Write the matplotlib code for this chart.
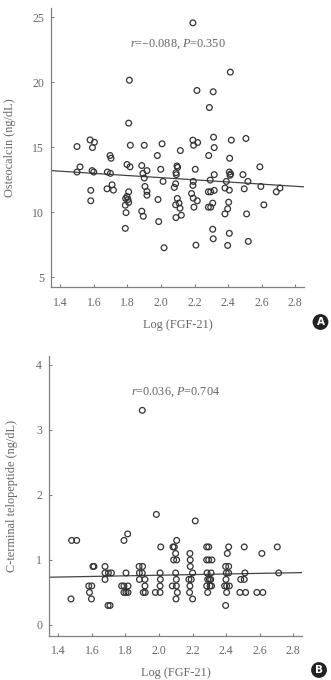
import matplotlib
matplotlib.use("Agg")
import matplotlib.pyplot as plt
import numpy as np

plt.rcParams['font.family'] = ['Liberation Serif', 'DejaVu Serif']
plt.rcParams['mathtext.fontset'] = 'custom'
plt.rcParams['mathtext.rm'] = 'Liberation Serif'
plt.rcParams['mathtext.it'] = 'Liberation Serif:italic'

# ---------------- Data ----------------
a_x = [2.190, 2.413, 1.811, 2.214, 2.311, 2.288, 1.807, 1.499, 1.577, 1.603,
       1.591, 1.696, 1.702, 1.817, 1.900, 2.006, 1.978, 2.115, 2.190, 2.194,
       2.218, 2.313, 2.317, 2.284, 2.419, 2.409, 2.506, 1.517, 1.797, 1.815,
       1.885, 2.095, 2.589, 1.499, 1.589, 1.599, 1.680, 1.698, 1.708, 1.678,
       1.716, 1.581, 1.581, 1.807, 1.797, 1.789, 1.803, 1.787, 1.807, 1.791,
       1.787, 1.916, 1.892, 1.900, 1.904, 1.916, 1.916, 1.885, 1.894, 1.998,
       2.012, 1.982, 1.986, 2.018, 2.099, 2.089, 2.091, 2.087, 2.079, 2.097,
       2.107, 2.087, 2.113, 2.121, 2.089, 2.204, 2.192, 2.190, 2.182, 2.192,
       2.216, 2.196, 2.208, 2.293, 2.317, 2.282, 2.296, 2.317, 2.308, 2.282,
       2.296, 2.308, 2.311, 2.407, 2.415, 2.411, 2.389, 2.381, 2.407, 2.403,
       2.397, 2.381, 2.407, 2.397, 2.488, 2.518, 2.496, 2.510, 2.520, 2.595,
       2.613, 2.687, 2.709]
a_y = [24.56, 20.77, 20.15, 19.36, 19.26, 18.05, 16.85, 15.05, 15.56, 15.38,
       14.97, 14.36, 14.15, 15.15, 15.15, 15.26, 14.36, 14.74, 15.54, 15.15,
       15.36, 15.77, 14.97, 14.36, 15.54, 14.15, 15.67, 13.49, 13.67, 13.49,
       13.59, 13.56, 13.49, 13.09, 13.20, 13.09, 13.09, 12.99, 12.11, 11.80,
       11.70, 11.68, 10.88, 11.57, 11.21, 11.06, 10.98, 10.54, 10.75, 9.97,
       8.76, 13.20, 12.99, 12.63, 11.98, 11.60, 11.31, 10.08, 9.69, 13.30,
       12.37, 10.98, 9.28, 7.27, 13.45, 13.04, 12.89, 12.19, 11.91, 11.06,
       10.70, 10.57, 10.31, 9.77, 9.59, 13.30, 12.37, 12.06, 11.44, 11.08,
       10.88, 10.39, 7.47, 12.47, 12.89, 11.57, 11.57, 11.68, 10.70, 10.39,
       10.39, 8.69, 7.96, 13.09, 12.94, 12.84, 12.37, 11.86, 11.70, 10.77,
       10.26, 9.87, 8.38, 7.45, 12.89, 12.37, 11.80, 9.87, 7.76, 11.98,
       10.57, 11.57, 11.86]

b_x = [1.479, 1.509, 1.475, 1.606, 1.612, 1.581, 1.599, 1.585, 1.597, 1.678,
       1.678, 1.678, 1.698, 1.716, 1.696, 1.708, 1.791, 1.813, 1.803, 1.777,
       1.791, 1.815, 1.791, 1.803, 1.815, 1.881, 1.902, 1.883, 1.900, 1.883,
       1.916, 1.916, 1.906, 1.918, 1.900, 1.984, 2.010, 2.006, 2.008, 2.006,
       1.978, 2.006, 2.105, 2.083, 2.091, 2.099, 2.087, 2.105, 2.099, 2.103,
       2.079, 2.103, 2.109, 2.101, 2.184, 2.186, 2.186, 2.200, 2.178, 2.192,
       2.184, 2.182, 2.200, 2.216, 2.284, 2.296, 2.284, 2.296, 2.315, 2.286,
       2.310, 2.290, 2.300, 2.308, 2.284, 2.304, 2.313, 2.290, 2.415, 2.407,
       2.397, 2.415, 2.401, 2.415, 2.399, 2.391, 2.403, 2.419, 2.403, 2.397,
       2.508, 2.487, 2.508, 2.512, 2.482, 2.516, 2.583, 2.619, 2.613, 2.705,
       2.713]
b_y = [1.3, 1.3, 0.4, 0.9, 0.9, 0.6, 0.6, 0.5, 0.4, 0.9,
       0.8, 0.7, 0.8, 0.8, 0.3, 0.3, 1.3, 1.4, 0.8, 0.6,
       0.6, 0.6, 0.5, 0.5, 0.5, 0.9, 0.9, 0.8, 0.8, 0.7,
       0.7, 0.6, 0.5, 0.5, 3.3, 1.7, 1.2, 0.8, 0.7, 0.6,
       0.5, 0.5, 1.3, 1.2, 1.2, 1.1, 1.0, 1.0, 0.8, 0.7,
       0.6, 0.6, 0.5, 0.4, 1.1, 1.0, 0.9, 0.8, 0.7, 0.7,
       0.6, 0.5, 0.4, 1.6, 1.2, 1.2, 1.0, 1.0, 1.0, 0.8,
       0.8, 0.7, 0.7, 0.7, 0.6, 0.6, 0.6, 0.5, 1.2, 1.1,
       0.9, 0.9, 0.8, 0.8, 0.7, 0.6, 0.6, 0.6, 0.5, 0.3,
       1.2, 0.7, 0.7, 0.8, 0.5, 0.5, 0.5, 0.5, 1.1, 1.2,
       0.8]

# regression lines: (intercept, slope)
fit_a = (14.313, -0.828)
fit_b = (0.671, 0.047)

x_ticks = [1.4, 1.6, 1.8, 2.0, 2.2, 2.4, 2.6, 2.8]
a_yticks = [5, 10, 15, 20, 25]
b_yticks = [0, 1, 2, 3, 4]

x_label = "Log (FGF-21)"
a_ylabel = "Osteocalcin (ng/dL)"
b_ylabel = "C-terminal telopeptide (ng/dL)"
a_text = "$r$=\u22120.088, $P$=0.350"
b_text = "$r$=0.036, $P$=0.704"

# ---------------- Figure ----------------
W, H = 331, 680
fig = plt.figure(figsize=(W / 100, H / 100), dpi=100)

TXT = '#666666'
SPINE = '#808080'
MK = '#333333'


def panel(rect, xs, ys, fit, yticks, ylim, ylabel, ylab_x, xlab_y, txt, letter, letter_xy):
    ax = fig.add_axes(rect)
    ax.scatter(xs, ys, s=17, facecolors='none', edgecolors=MK, linewidths=0.9, zorder=3)
    xlim = (1.344, 2.854)
    xx = np.array(xlim)
    ax.plot(xx, fit[0] + fit[1] * xx, color='#444444', lw=0.9, zorder=2)
    ax.set_xlim(*xlim)
    ax.set_ylim(*ylim)
    ax.set_xticks(x_ticks)
    ax.set_xticklabels([f"{t:.1f}" for t in x_ticks])
    ax.set_yticks(yticks)
    for s in ('top', 'right'):
        ax.spines[s].set_visible(False)
    for s in ('left', 'bottom'):
        ax.spines[s].set_color(SPINE)
        ax.spines[s].set_linewidth(0.9)
    ax.tick_params(axis='both', direction='in', length=2.2, width=0.8, color=SPINE,
                   labelcolor=TXT, labelsize=8.5)
    ax.tick_params(axis='x', pad=7)
    ax.tick_params(axis='y', pad=5)
    ax.set_xlabel(x_label, fontsize=8.8, color=TXT)
    ax.xaxis.set_label_coords(0.5, xlab_y)
    ax.set_ylabel(ylabel, fontsize=8.8, color=TXT)
    ax.yaxis.set_label_coords(ylab_x, 0.5)
    ax.text(0.501, 0.871, txt, transform=ax.transAxes, ha='center', va='center',
            fontsize=8.8, color=TXT)
    fig.text(letter_xy[0] / W, 1 - letter_xy[1] / H, letter, ha='center', va='center',
             fontsize=7.5, fontweight='bold', color='white', family='DejaVu Sans',
             bbox=dict(boxstyle='circle,pad=0.28', fc='#222222', ec='none'))
    return ax


panel([51 / W, 1 - 287.3 / H, 253.3 / W, 279.3 / H], a_x, a_y, fit_a, a_yticks,
      (4.23, 25.7), a_ylabel, -0.138, -0.1135, a_text, 'A', (320.5, 322))
panel([49 / W, 1 - 635.7 / H, 253.3 / W, 280 / H], b_x, b_y, fit_b, b_yticks,
      (-0.165, 4.14), b_ylabel, -0.122, -0.111, b_text, 'B', (319, 670))

fig.savefig('out.png', dpi=100, facecolor='white')
